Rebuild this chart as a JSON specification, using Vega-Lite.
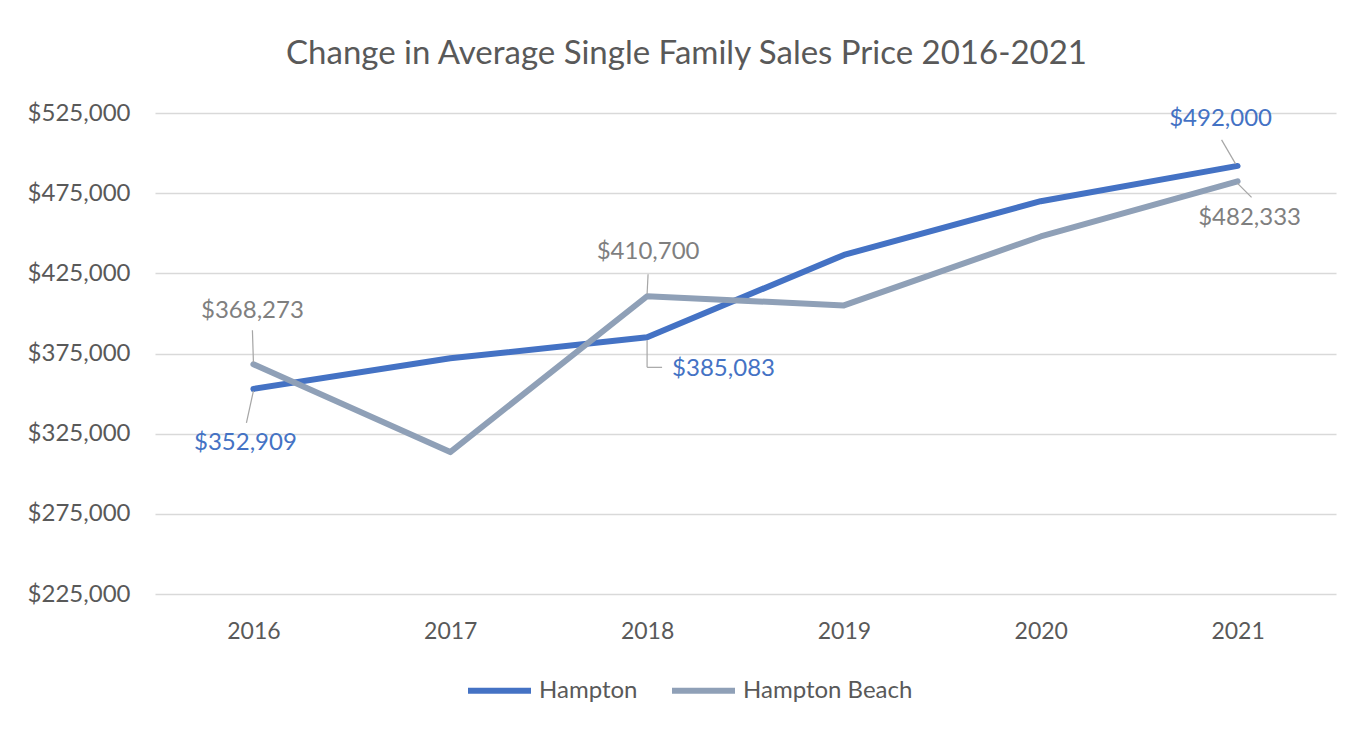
{
  "$schema": "https://vega.github.io/schema/vega-lite/v6.json",
  "width": 1181,
  "height": 481,
  "autosize": {"type": "none"},
  "padding": {"left": 155, "top": 113, "right": 35, "bottom": 138},
  "background": "white",
  "title": {
    "text": "Change in Average Single Family Sales Price 2016-2021",
    "anchor": "middle",
    "frame": "group",
    "dx": -59,
    "offset": 30,
    "font": "Lato",
    "fontSize": 33,
    "fontWeight": "normal",
    "color": "#595959"
  },
  "config": {
    "view": {"stroke": null},
    "font": "Lato"
  },
  "data": {
    "values": [
      {"year": "2016", "series": "Hampton", "price": 352909},
      {"year": "2017", "series": "Hampton", "price": 372000},
      {"year": "2018", "series": "Hampton", "price": 385083},
      {"year": "2019", "series": "Hampton", "price": 436500},
      {"year": "2020", "series": "Hampton", "price": 470000},
      {"year": "2021", "series": "Hampton", "price": 492000},
      {"year": "2016", "series": "Hampton Beach", "price": 368273},
      {"year": "2017", "series": "Hampton Beach", "price": 313500},
      {"year": "2018", "series": "Hampton Beach", "price": 410700},
      {"year": "2019", "series": "Hampton Beach", "price": 405000},
      {"year": "2020", "series": "Hampton Beach", "price": 448000},
      {"year": "2021", "series": "Hampton Beach", "price": 482333}
    ]
  },
  "encoding": {
    "x": {
      "field": "year",
      "type": "ordinal",
      "scale": {"type": "point", "padding": 0.5},
      "axis": {
        "title": null,
        "labelAngle": 0,
        "ticks": false,
        "domain": false,
        "grid": false,
        "labelPadding": 26,
        "labelFontSize": 23,
        "labelColor": "#595959",
        "labelFont": "Lato"
      }
    },
    "y": {
      "field": "price",
      "type": "quantitative",
      "scale": {"domain": [225000, 525000], "nice": false, "zero": false},
      "axis": {
        "title": null,
        "values": [225000, 275000, 325000, 375000, 425000, 475000, 525000],
        "format": "$,.0f",
        "ticks": false,
        "domain": false,
        "grid": true,
        "gridColor": "#D9D9D9",
        "gridWidth": 1.5,
        "labelPadding": 25,
        "labelFontSize": 24,
        "labelColor": "#595959",
        "labelFont": "Lato"
      }
    }
  },
  "layer": [
    {
      "mark": {"type": "line", "strokeWidth": 6, "strokeJoin": "round", "strokeCap": "round"},
      "encoding": {
        "color": {
          "field": "series",
          "type": "nominal",
          "scale": {"domain": ["Hampton", "Hampton Beach"], "range": ["#4472C4", "#8FA0B7"]},
          "legend": {
            "title": null,
            "orient": "none",
            "direction": "horizontal",
            "legendX": 310,
            "legendY": 543,
            "symbolType": "stroke",
            "symbolSize": 3969,
            "symbolStrokeWidth": 6,
            "labelFontSize": 24,
            "labelColor": "#595959",
            "labelFont": "Lato",
            "labelLimit": 400,
            "labelOffset": 5,
            "columnPadding": 22
          }
        }
      }
    },
    {
      "transform": [{"filter": "datum.series == 'Hampton' && datum.year == '2016'"}],
      "mark": {"type": "rule", "color": "#A6A6A6", "strokeWidth": 1.2, "yOffset": 2, "x2Offset": -7, "y2Offset": 34},
      "encoding": {"x2": {"field": "year"}, "y2": {"field": "price"}}
    },
    {
      "transform": [{"filter": "datum.series == 'Hampton Beach' && datum.year == '2016'"}],
      "mark": {"type": "rule", "color": "#A6A6A6", "strokeWidth": 1.2, "yOffset": -2, "x2Offset": -1, "y2Offset": -34},
      "encoding": {"x2": {"field": "year"}, "y2": {"field": "price"}}
    },
    {
      "transform": [{"filter": "datum.series == 'Hampton Beach' && datum.year == '2018'"}],
      "mark": {"type": "rule", "color": "#A6A6A6", "strokeWidth": 1.2, "yOffset": -2, "x2Offset": 1, "y2Offset": -22},
      "encoding": {"x2": {"field": "year"}, "y2": {"field": "price"}}
    },
    {
      "transform": [{"filter": "datum.series == 'Hampton' && datum.year == '2018'"}],
      "mark": {"type": "rule", "color": "#A6A6A6", "strokeWidth": 1.2, "yOffset": 3, "x2Offset": 0, "y2Offset": 30},
      "encoding": {"x2": {"field": "year"}, "y2": {"field": "price"}}
    },
    {
      "transform": [{"filter": "datum.series == 'Hampton' && datum.year == '2018'"}],
      "mark": {"type": "rule", "color": "#A6A6A6", "strokeWidth": 1.2, "yOffset": 30, "x2Offset": 15, "y2Offset": 30},
      "encoding": {"x2": {"field": "year"}, "y2": {"field": "price"}}
    },
    {
      "transform": [{"filter": "datum.series == 'Hampton' && datum.year == '2021'"}],
      "mark": {"type": "rule", "color": "#A6A6A6", "strokeWidth": 1.2, "xOffset": -2, "yOffset": -2, "x2Offset": -16, "y2Offset": -26},
      "encoding": {"x2": {"field": "year"}, "y2": {"field": "price"}}
    },
    {
      "transform": [{"filter": "datum.series == 'Hampton Beach' && datum.year == '2021'"}],
      "mark": {"type": "rule", "color": "#A6A6A6", "strokeWidth": 1.2, "yOffset": 2, "x2Offset": 14, "y2Offset": 16},
      "encoding": {"x2": {"field": "year"}, "y2": {"field": "price"}}
    },
    {
      "transform": [{"filter": "datum.series == 'Hampton' && datum.year == '2016'"}],
      "mark": {"type": "text", "color": "#4472C4", "fontSize": 24, "font": "Lato", "dx": -8, "dy": 54, "align": "center", "baseline": "middle"},
      "encoding": {"text": {"field": "price", "type": "quantitative", "format": "$,.0f"}}
    },
    {
      "transform": [{"filter": "datum.series == 'Hampton Beach' && datum.year == '2016'"}],
      "mark": {"type": "text", "color": "#7F7F7F", "fontSize": 24, "font": "Lato", "dx": -1, "dy": -53, "align": "center", "baseline": "middle"},
      "encoding": {"text": {"field": "price", "type": "quantitative", "format": "$,.0f"}}
    },
    {
      "transform": [{"filter": "datum.series == 'Hampton Beach' && datum.year == '2018'"}],
      "mark": {"type": "text", "color": "#7F7F7F", "fontSize": 24, "font": "Lato", "dx": 1, "dy": -44, "align": "center", "baseline": "middle"},
      "encoding": {"text": {"field": "price", "type": "quantitative", "format": "$,.0f"}}
    },
    {
      "transform": [{"filter": "datum.series == 'Hampton' && datum.year == '2018'"}],
      "mark": {"type": "text", "color": "#4472C4", "fontSize": 24, "font": "Lato", "dx": 25, "dy": 32, "align": "left", "baseline": "middle"},
      "encoding": {"text": {"field": "price", "type": "quantitative", "format": "$,.0f"}}
    },
    {
      "transform": [{"filter": "datum.series == 'Hampton' && datum.year == '2021'"}],
      "mark": {"type": "text", "color": "#4472C4", "fontSize": 24, "font": "Lato", "dx": -17, "dy": -47, "align": "center", "baseline": "middle"},
      "encoding": {"text": {"field": "price", "type": "quantitative", "format": "$,.0f"}}
    },
    {
      "transform": [{"filter": "datum.series == 'Hampton Beach' && datum.year == '2021'"}],
      "mark": {"type": "text", "color": "#7F7F7F", "fontSize": 24, "font": "Lato", "dx": 12, "dy": 37, "align": "center", "baseline": "middle"},
      "encoding": {"text": {"field": "price", "type": "quantitative", "format": "$,.0f"}}
    }
  ]
}
